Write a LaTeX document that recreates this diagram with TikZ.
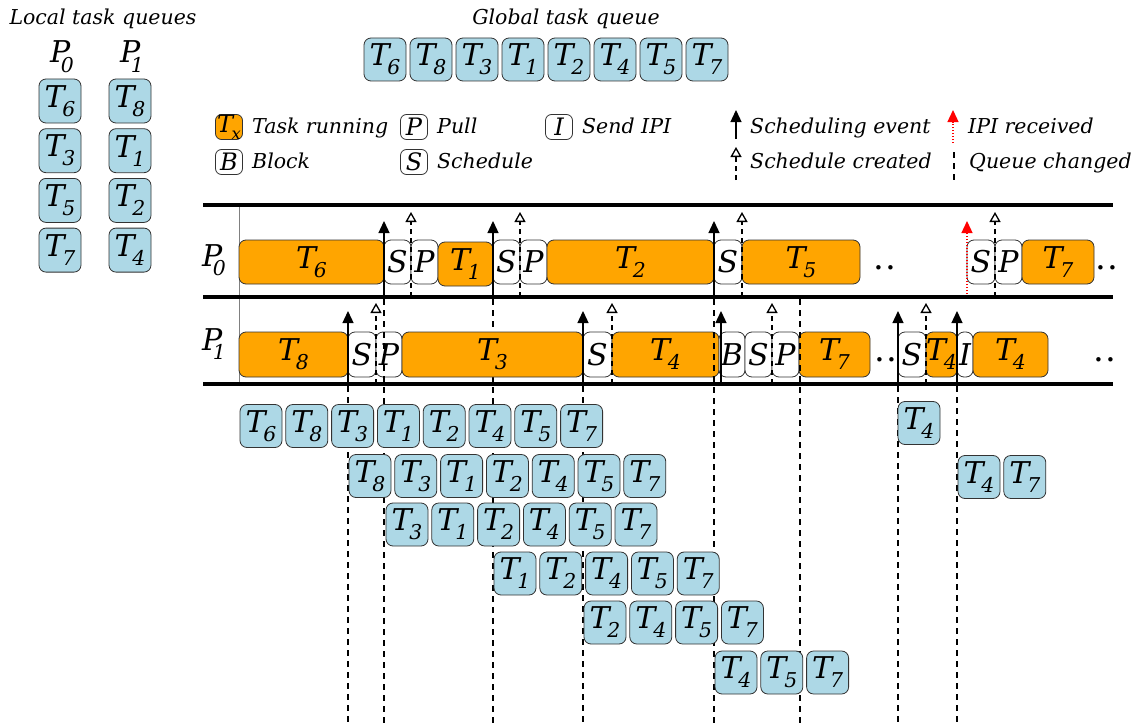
\documentclass[tikz,border=0pt]{standalone}
\usepackage{graphicx}
\usepackage{fontspec}
\setmainfont{DejaVu Serif}
\usetikzlibrary{arrows.meta}

\definecolor{qblue}{HTML}{ADD8E6}
\definecolor{runorange}{HTML}{FFA500}
\definecolor{edge}{HTML}{333333}

% fonts
\newcommand\bigf{\itshape\fontsize{30}{32}\selectfont}
\newcommand\midf{\itshape\fontsize{24}{26}\selectfont}
\newcommand\labf{\itshape\fontsize{20.5}{23}\selectfont}
\newcommand\dotf{\fontsize{34}{36}\selectfont}

% task and processor names with subscripts
\newcommand\Tk[1]{T\kern-0.07em\raisebox{-0.3em}{\scalebox{0.68}{#1}}}
\newcommand\Pk[1]{P\kern-0.32em\raisebox{-0.32em}{\scalebox{0.68}{#1}}}

\tikzset{
  qbox/.style={draw=edge, line width=0.8pt, fill=qblue, rounded corners=7pt,
    minimum width=42pt, minimum height=43pt, inner sep=0pt, font=\bigf},
  runbox/.style={draw=edge, line width=0.8pt, fill=runorange, rounded corners=7pt,
    inner sep=0pt, font=\bigf},
  evbox/.style={draw=edge, line width=0.8pt, fill=white, rounded corners=7pt,
    inner sep=0pt, font=\bigf},
  lbox/.style={draw=edge, line width=0.8pt, fill=white, rounded corners=6pt,
    minimum width=27pt, minimum height=25pt, inner sep=0pt, font=\midf},
  lab/.style={font=\labf, inner sep=0pt},
  dots/.style={font=\dotf, inner sep=0pt, anchor=base},
  evarrow/.style={line width=1.3pt, -{Triangle[width=11pt,length=12pt]}},
  ipiarrow/.style={red, line width=1.3pt, dash pattern=on 1.5pt off 1.5pt,
    -{Triangle[width=11pt,length=12pt]}},
  created/.style={line width=1.3pt, dash pattern=on 5pt off 4pt,
    -{Triangle[open,width=11pt,length=10pt]}},
  qline/.style={line width=1.3pt, dash pattern=on 6pt off 5pt},
  axisline/.style={line width=4pt},
}

% a box on a processor time line, spanning x1..x2
% #1 style, #2 name, #3 x1, #4 x2, #5 y centre, #6 height, #7 text
\newcommand\seg[7]{%
  \pgfmathsetmacro\segc{(#3+#4)/2}%
  \pgfmathsetmacro\segw{#4-#3}%
  \node[#1, minimum width=\segw pt, minimum height=#6pt] (#2) at (\segc,#5) {#7};}

% a row of queued tasks: #1 name prefix, #2 left edge, #3 y centre, #4 task list
\newcommand\qrow[4]{%
  \foreach \t [count=\i from 0] in {#4} {
    \node[qbox] (#1-\i) at ({#2+21+45.8*\i},#3) {\Tk{\t}};
  }}

\begin{document}
\begin{tikzpicture}[x=1pt,y=-1pt]
\useasboundingbox (0,0) rectangle (1138,725);

% ---------- titles ----------
\node[lab, anchor=base] (loctitle) at (103,25) {Local task queues};
\node[lab, anchor=base] (globtitle) at (566,25) {Global task queue};

% ---------- local queues ----------
\node[font=\bigf, inner sep=0pt, anchor=base] (lp0) at (62,63) {\Pk0};
\node[font=\bigf, inner sep=0pt, anchor=base] (lp1) at (132,63) {\Pk1};
\foreach \t [count=\i from 0] in {6,3,5,7}
  \node[qbox, minimum height=44pt] (l0-\i) at (60,{101+49.7*\i}) {\Tk{\t}};
\foreach \t [count=\i from 0] in {8,1,2,4}
  \node[qbox, minimum height=44pt] (l1-\i) at (130,{101+49.7*\i}) {\Tk{\t}};

% ---------- global queue ----------
\foreach \t [count=\i from 0] in {6,8,3,1,2,4,5,7}
  \node[qbox] (g-\i) at ({385+46*\i},59.5) {\Tk{\t}};

% ---------- legend ----------
\node[lbox, fill=runorange] (lgT) at (229,127) {\Tk{x}};
\node[lab, anchor=base west] at (252,133.5) {Task running};
\node[lbox] (lgP) at (414,127) {P};
\node[lab, anchor=base west] at (437,133.5) {Pull};
\node[lbox] (lgI) at (559,127) {I};
\node[lab, anchor=base west] at (582,133.5) {Send IPI};
\node[lbox] (lgB) at (229,162) {B};
\node[lab, anchor=base west] at (252,168.5) {Block};
\node[lbox] (lgS) at (414,162) {S};
\node[lab, anchor=base west] at (437,168.5) {Schedule};

\coordinate (lgEa) at (736,139); \coordinate (lgEb) at (736,110);
\draw[evarrow] (lgEa) -- (lgEb);
\node[lab, anchor=base west] at (750,133.5) {Scheduling event};
\coordinate (lgRa) at (953,143); \coordinate (lgRb) at (953,110);
\draw[ipiarrow] (lgRa) -- (lgRb);
\node[lab, anchor=base west] at (968,133.5) {IPI received};
\coordinate (lgCa) at (736,180); \coordinate (lgCb) at (736,147);
\draw[created] (lgCa) -- (lgCb);
\node[lab, anchor=base west] at (750,168.5) {Schedule created};
\coordinate (lgQa) at (954,152); \coordinate (lgQb) at (954,180);
\draw[qline] (lgQa) -- (lgQb);
\node[lab, anchor=base west] at (969,168.5) {Queue changed};

% ---------- queue-change lines running down to the queue snapshots ----------
\foreach \x in {384,493,714,800} \draw[qline] (\x,299) -- (\x,725);
\foreach \x in {348,583,898,957} \draw[qline] (\x,386) -- (\x,725);

% ---------- queue snapshots ----------
\qrow{r1}{240}{426}{6,8,3,1,2,4,5,7}
\qrow{r1x}{898}{423}{4}
\qrow{r2}{349}{476}{8,3,1,2,4,5,7}
\qrow{r2x}{958}{477}{4,7}
\qrow{r3}{386}{524.5}{3,1,2,4,5,7}
\qrow{r4}{494}{573.5}{1,2,4,5,7}
\qrow{r5}{584}{622.5}{2,4,5,7}
\qrow{r6}{715}{672.5}{4,5,7}

% ---------- processor time lines ----------
\draw[gray, line width=1pt] (239,205) -- (239,384);
\node[font=\bigf, inner sep=0pt, anchor=base west] (tp0) at (202,266) {\Pk0};
\node[font=\bigf, inner sep=0pt, anchor=base west] (tp1) at (202,350) {\Pk1};

% P0
\seg{runbox}{a1}{239}{384}{262}{44}{\Tk6}
\seg{evbox}{a2}{384}{411}{262}{44}{S}
\seg{evbox}{a3}{411}{438}{262}{44}{P}
\seg{runbox}{a4}{438}{493}{264}{44}{\Tk1}
\seg{evbox}{a5}{493}{520}{262}{44}{S}
\seg{evbox}{a6}{520}{547}{262}{44}{P}
\seg{runbox}{a7}{547}{714}{262}{44}{\Tk2}
\seg{evbox}{a8}{714}{742}{262}{44}{S}
\seg{runbox}{a9}{742}{860}{262}{44}{\Tk5}
\node[dots] (d1) at (885,269) {.\kern2pt.};
\seg{evbox}{a10}{967}{995}{262}{44}{S}
\seg{evbox}{a11}{995}{1022}{262}{44}{P}
\seg{runbox}{a12}{1022}{1094}{262}{44}{\Tk7}
\node[dots] (d2) at (1107,269) {.\kern2pt.};

% P1
\seg{runbox}{b1}{239}{348}{354.5}{45}{\Tk8}
\seg{evbox}{b2}{348}{376}{354.5}{45}{S}
\seg{evbox}{b3}{376}{402}{354.5}{45}{P}
\seg{runbox}{b4}{402}{583}{354.5}{45}{\Tk3}
\seg{evbox}{b5}{583}{612}{354.5}{45}{S}
\seg{runbox}{b6}{612}{719}{354.5}{45}{\Tk4}
\seg{evbox}{b7}{719}{745}{354.5}{45}{B}
\seg{evbox}{b8}{745}{772}{354.5}{45}{S}
\seg{evbox}{b9}{772}{799}{354.5}{45}{P}
\seg{runbox}{b10}{799}{870}{354.5}{45}{\Tk7}
\node[dots] (d3) at (886,361) {.\kern2pt.};
\seg{evbox}{b11}{898}{926}{354.5}{45}{S}
\seg{runbox}{b12}{926}{957}{354.5}{45}{\Tk4}
\seg{evbox}{b13}{957}{973}{354.5}{45}{I}
\seg{runbox}{b14}{973}{1048}{354.5}{45}{\Tk4}
\node[dots] (d4) at (1105,361) {.\kern2pt.};

% queue-change lines crossing the P1 line
\foreach \x in {384,714,800} \draw[qline] (\x,299) -- (\x,384);

% scheduling events
\foreach \x in {384,493,714} \draw[evarrow] (\x,297) -- (\x,221);
\foreach \x in {348,583,721,898,957} \draw[evarrow] (\x,384) -- (\x,311);
% schedules created
\foreach \x in {411,520,742,995} \draw[created] (\x,297) -- (\x,212);
\foreach \x in {376,612,772,926} \draw[created] (\x,384) -- (\x,303);
% IPI received
\draw[ipiarrow] (967,297) -- (967,221);

% time line borders
\draw[axisline] (203,205) -- (1113,205);
\draw[axisline] (203,297) -- (1113,297);
\draw[axisline] (203,384) -- (1113,384);
\end{tikzpicture}
\end{document}
